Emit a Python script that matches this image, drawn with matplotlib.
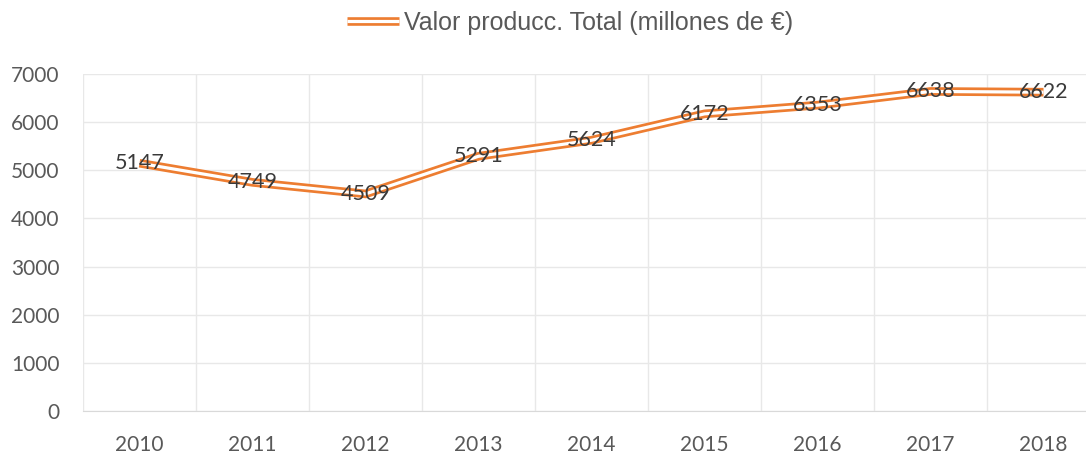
import matplotlib.pyplot as plt
from matplotlib.lines import Line2D
from matplotlib.legend_handler import HandlerTuple

years = ['2010', '2011', '2012', '2013', '2014', '2015', '2016', '2017', '2018']
valor = [5147, 4749, 4509, 5291, 5624, 6172, 6353, 6638, 6622]
yticks = [0, 1000, 2000, 3000, 4000, 5000, 6000, 7000]

orange = '#ED7D31'
txt = '#595959'

fig = plt.figure(figsize=(10.86, 4.53), dpi=100)
# plot area runs a bit past the right edge, like the original
ax = fig.add_axes([83 / 1086, 42 / 453, 1017 / 1086, 337 / 453])

x = list(range(len(years)))
# double line: thick orange with a thin white stroke on top
ax.plot(x, valor, color=orange, lw=6.2, solid_joinstyle='miter',
        solid_capstyle='butt', zorder=3)
ax.plot(x, valor, color='white', lw=2.3, solid_joinstyle='miter',
        solid_capstyle='butt', zorder=4)

for xi, v in zip(x, valor):
    ax.text(xi, v, str(v), ha='center', va='center', fontsize=15.5,
            family='Lato', color='#3a3a3a', zorder=5)

ax.set_xlim(-0.5, len(years) - 0.5)
ax.set_ylim(0, 7000)
ax.set_yticks(yticks)
ax.set_xticks(x)
ax.set_xticklabels(years)
ax.set_xticks([i + 0.5 for i in range(-1, len(years))], minor=True)
ax.grid(True, which='minor', axis='x', color='#e8e8e8', lw=1)
ax.grid(True, which='major', axis='y', color='#e8e8e8', lw=1)
ax.tick_params(which='both', length=0)
ax.tick_params(axis='x', pad=17, labelsize=15, labelcolor=txt)
ax.tick_params(axis='y', pad=17, labelsize=15, labelcolor=txt)
for lab in ax.get_xticklabels() + ax.get_yticklabels():
    lab.set_family('Lato')
for s in ['top', 'right', 'left']:
    ax.spines[s].set_visible(False)
ax.spines['bottom'].set_color('#d9d9d9')

h1 = Line2D([], [], color=orange, lw=6.2, solid_capstyle='butt')
h2 = Line2D([], [], color='white', lw=2.3, solid_capstyle='butt')
fig.legend([(h1, h2)], ['Valor producc. Total (millones de €)'],
           handler_map={tuple: HandlerTuple(ndivide=1)},
           loc='center', bbox_to_anchor=(570 / 1086, 1 - 23 / 453),
           frameon=False, handlelength=2.1, handletextpad=0.2,
           prop={'family': 'Liberation Sans', 'size': 18},
           labelcolor=txt)

fig.savefig('out.png', dpi=100)
